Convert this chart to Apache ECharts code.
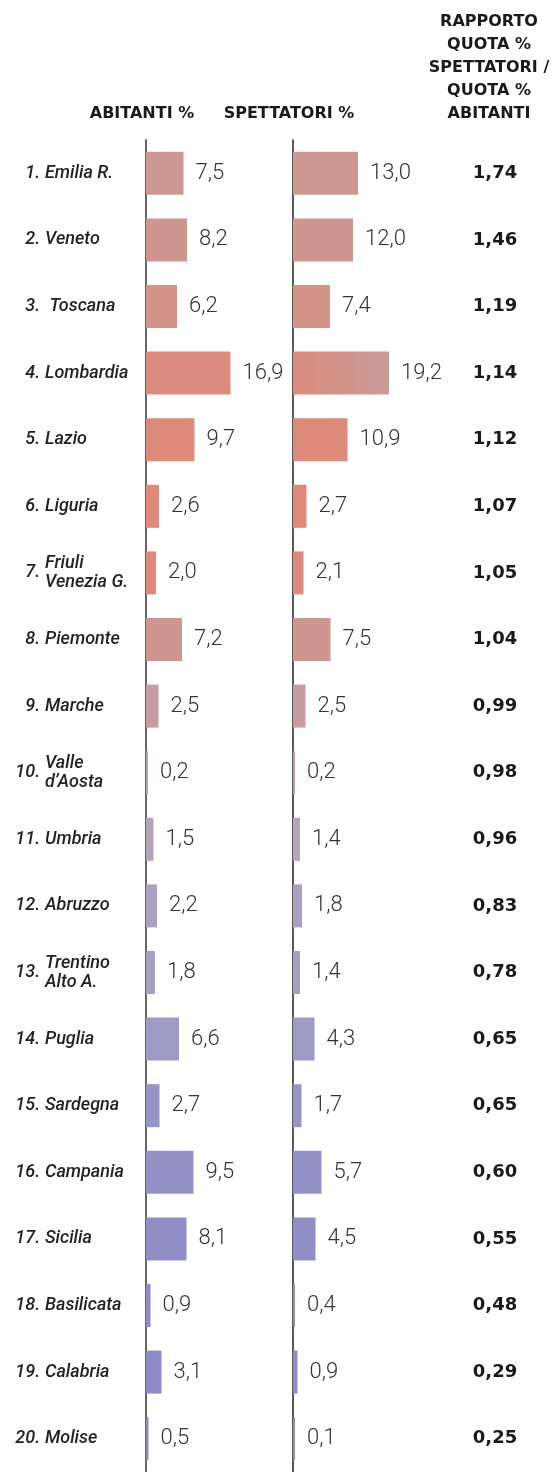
<!DOCTYPE html>
<html lang="it">
<head>
    <meta charset="UTF-8">
    <title>Abitanti e spettatori per regione</title>
    <script src="https://cdn.jsdelivr.net/npm/echarts@6/dist/echarts.min.js"></script>
    <style>
        * { margin: 0; padding: 0; box-sizing: border-box; }
        body { background: #fff; }
        #chart-container { width: 553px; height: 1472px; }
    </style>
</head>
<body>
<div id="chart-container"></div>
<script>
    // dati
    const regioni = ['Emilia R.', 'Veneto', ' Toscana', 'Lombardia', 'Lazio', 'Liguria',
        'Friuli\nVenezia G.', 'Piemonte', 'Marche', 'Valle\nd\u2019Aosta', 'Umbria', 'Abruzzo',
        'Trentino\nAlto A.', 'Puglia', 'Sardegna', 'Campania', 'Sicilia', 'Basilicata',
        'Calabria', 'Molise'];
    const abitanti = [7.5, 8.2, 6.2, 16.9, 9.7, 2.6, 2.0, 7.2, 2.5, 0.2, 1.5, 2.2, 1.8, 6.6, 2.7, 9.5, 8.1, 0.9, 3.1, 0.5];
    const spettatori = [13.0, 12.0, 7.4, 19.2, 10.9, 2.7, 2.1, 7.5, 2.5, 0.2, 1.4, 1.8, 1.4, 4.3, 1.7, 5.7, 4.5, 0.4, 0.9, 0.1];
    const rapporto = [1.74, 1.46, 1.19, 1.14, 1.12, 1.07, 1.05, 1.04, 0.99, 0.98, 0.96, 0.83, 0.78, 0.65, 0.65, 0.60, 0.55, 0.48, 0.29, 0.25];

    // colori delle barre, dal rosa al viola
    const colori = ['#cd9891', '#ce968f', '#d5948a', '#db8c7e', '#de8a7b', '#e0887a', '#dd8a7c',
        '#cf958f', '#c69ba1', '#c0a0ab', '#b5a3bb', '#aba0bf', '#a5a0c2', '#9d9ac6', '#9795c7',
        '#9391c8', '#908dc7', '#8e8bc8', '#8e8bc8', '#8e8bc8'];

    const TOP = 140, H = 1334;
    const numFont = 'Roboto';

    function virgola(v, d) {
        return v.toFixed(d).replace('.', ',');
    }

    function coloreSpett(params) {
        if (params.dataIndex === 3) {
            return new echarts.graphic.LinearGradient(0, 0, 1, 0, [
                {offset: 0, color: '#db8b7b'},
                {offset: 1, color: '#c99c98'}
            ]);
        }
        return colori[params.dataIndex];
    }

    function barre(nome, dati, idx, colore) {
        return {
            name: nome,
            type: 'bar',
            xAxisIndex: idx,
            yAxisIndex: idx,
            data: dati,
            barWidth: 43,
            barMinHeight: 2,
            itemStyle: {color: colore},
            label: {
                show: true,
                position: 'right',
                distance: 12,
                formatter: p => virgola(p.value, 1),
                fontFamily: numFont,
                fontWeight: 300,
                fontSize: 22,
                color: '#333'
            },
            silent: true,
            animation: false
        };
    }

    const titoloStile = {
        fontFamily: 'DejaVu Sans',
        fontWeight: 'bold',
        fontSize: 16,
        color: '#1a1a1a',
        lineHeight: 23
    };

    let chartDom = document.getElementById('chart-container');
    let myChart = echarts.init(chartDom);

    let option = {
        animation: false,
        title: [
            {text: 'ABITANTI %', left: 142, top: 102, textAlign: 'center', textStyle: titoloStile, padding: 0},
            {text: 'SPETTATORI %', left: 289, top: 102, textAlign: 'center', textStyle: titoloStile, padding: 0},
            {
                text: 'RAPPORTO\nQUOTA %\nSPETTATORI /\nQUOTA %\nABITANTI',
                left: 489, top: 10, textAlign: 'center', textStyle: titoloStile, padding: 0
            }
        ],
        grid: [
            {left: 146, width: 150, top: TOP, height: H},
            {left: 293, width: 150, top: TOP, height: H},
            {left: 42, width: 1, top: TOP, height: H}
        ],
        xAxis: [
            {gridIndex: 0, type: 'value', min: 0, max: 30, show: false},
            {gridIndex: 1, type: 'value', min: 0, max: 30, show: false},
            {gridIndex: 2, type: 'value', min: 0, max: 1, show: false}
        ],
        yAxis: [
            {
                gridIndex: 0, type: 'category', inverse: true, data: regioni, position: 'left',
                axisLine: {show: true, lineStyle: {color: '#666', width: 2}},
                axisTick: {show: false},
                axisLabel: {
                    align: 'left', margin: 101, fontFamily: numFont, fontStyle: 'italic',
                    fontWeight: 500, fontSize: 18, lineHeight: 19, color: '#222'
                }
            },
            {
                gridIndex: 1, type: 'category', inverse: true, data: regioni, position: 'left',
                axisLine: {show: true, lineStyle: {color: '#222', width: 1.5}},
                axisTick: {show: false},
                axisLabel: {show: false}
            },
            {
                gridIndex: 1, type: 'category', inverse: true, data: rapporto, position: 'right',
                axisLine: {show: false},
                axisTick: {show: false},
                axisLabel: {
                    align: 'center', margin: 52, formatter: v => virgola(Number(v), 2),
                    fontFamily: 'DejaVu Sans', fontWeight: 'bold', fontSize: 18, color: '#1a1a1a'
                }
            },
            {
                gridIndex: 2, type: 'category', inverse: true, data: regioni, position: 'left',
                axisLine: {show: false},
                axisTick: {show: false},
                axisLabel: {
                    align: 'right', margin: 2, formatter: (v, i) => (i + 1) + '.',
                    fontFamily: numFont, fontStyle: 'italic', fontWeight: 500, fontSize: 18, color: '#222'
                }
            }
        ],
        series: [
            barre('Abitanti %', abitanti, 0, p => colori[p.dataIndex]),
            barre('Spettatori %', spettatori, 1, coloreSpett)
        ]
    };

    option && myChart.setOption(option);
</script>
</body>
</html>
